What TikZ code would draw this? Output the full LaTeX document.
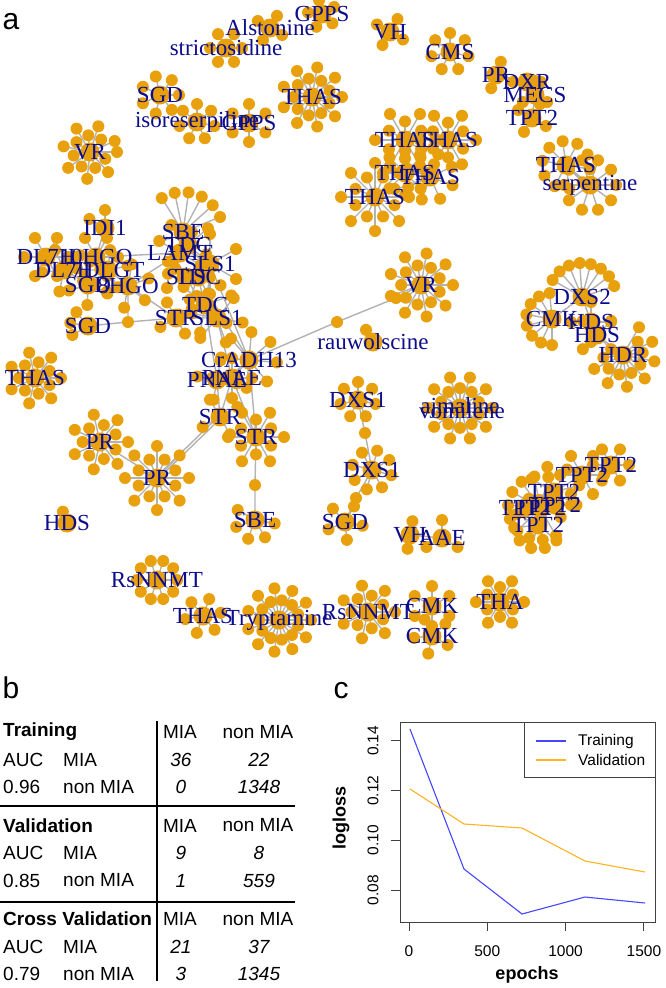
\documentclass[tikz,border=0pt]{standalone}
\usepackage{fontspec}
\setmainfont{Liberation Serif}
\setsansfont{Liberation Sans}
\definecolor{netOrange}{RGB}{232,160,12}
\definecolor{netBlue}{RGB}{12,12,140}
\definecolor{edgeGray}{RGB}{178,178,178}
\definecolor{lossBlue}{RGB}{70,70,255}
\definecolor{lossOrange}{RGB}{255,178,35}

% hub with its ring of leaves: name, position, label, leaves, radius, start angle, span
% drawn in three passes: 1 spokes, 2 leaves and hubs, 3 labels
\newcount\netpass
\newcommand{\cluster}[7]{%
  \ifcase\netpass\or
    \coordinate (#1) at (#2);
    \foreach \i in {1,...,#4}{%
      \pgfmathsetmacro\ang{#6+(\i-1)*#7/#4}%
      \pgfmathsetmacro\rr{(#4>11 && mod(\i,2)==0) ? 0.62*#5 : #5}%
      \coordinate (#1-c\i) at ([shift={(\ang:\rr)}]#1);
      \draw[spoke] (#1) -- (#1-c\i);
    }%
  \or
    \node[hub] (#1-h) at (#1) {};
    \foreach \i in {1,...,#4}{\node[dot] (#1-\i) at (#1-c\i) {};}%
  \or
    \node[lab] (#1-t) at (#1) {#3};
  \fi}

\newcommand{\netclusters}{%
  % top rim
  \cluster{gppsA}{322,14}{GPPS}{5}{14}{-30}{360}
  \cluster{alst}{270,28}{Alstonine}{4}{14}{-60}{360}
  \cluster{stri}{226,48}{strictosidine}{6}{16}{0}{360}
  \cluster{sgdA}{160,95}{SGD}{7}{19}{0}{360}
  \cluster{isor}{197,122}{isoreserpiline}{7}{18}{-90}{360}
  \cluster{gppsB}{249,123}{GPPS}{6}{19}{-90}{360}
  \cluster{vrA}{90,152}{VR}{15}{27}{0}{360}
  \cluster{thasA}{312,97}{THAS}{18}{30}{0}{360}
  \cluster{vhA}{390,32}{VH}{4}{15}{-60}{360}
  \cluster{cms}{450,52}{CMS}{7}{19}{-90}{360}
  \cluster{prA}{496,75}{PR}{2}{14}{-70}{360}
  \cluster{dxr}{527,82}{DXR}{2}{14}{0}{360}
  \cluster{mecs}{535,95}{MECS}{3}{14}{30}{360}
  \cluster{tptA}{532,118}{TPT2}{4}{16}{-60}{360}
  % THAS group
  \cluster{thasB}{405,140}{THAS}{12}{30}{0}{360}
  \cluster{thasC}{448,140}{THAS}{12}{28}{-60}{360}
  \cluster{thasD}{405,173}{THAS}{8}{22}{0}{360}
  \cluster{thasE}{430,177}{THAS}{8}{24}{20}{360}
  \cluster{thasF}{375,197}{THAS}{16}{34}{0}{360}
  \cluster{thasG}{566,165}{THAS}{10}{24}{-170}{360}
  \cluster{serp}{590,185}{serpentine}{10}{26}{0}{360}
  % middle left, dense part
  \cluster{idi}{105,228}{IDI1}{2}{18}{-150}{120}
  \cluster{sbeA}{183,232}{SBE}{6}{40}{-122}{120}
  \cluster{dl7a}{46,257}{DL7H}{6}{22}{120}{360}
  \cluster{hgo}{96,257}{10HGO}{6}{22}{-60}{360}
  \cluster{dl7b}{64,270}{DL7H}{5}{22}{30}{360}
  \cluster{dlgt}{108,270}{7DLGT}{5}{20}{60}{360}
  \cluster{sgdC}{88,285}{SGD}{5}{20}{20}{360}
  \cluster{hgo8}{128,286}{8HGO}{6}{22}{40}{360}
  \cluster{tdcA}{188,245}{TDC}{4}{26}{-40}{360}
  \cluster{lamt}{180,253}{LAMT}{4}{24}{-150}{360}
  \cluster{sls}{210,264}{SLS1}{6}{30}{-30}{360}
  \cluster{slsC}{186,277}{SLS}{4}{22}{60}{360}
  \cluster{tdcC}{198,277}{TDC}{4}{24}{20}{360}
  \cluster{tdcB}{205,305}{TDC}{6}{28}{-20}{360}
  \cluster{strA}{176,318}{STR}{4}{18}{60}{360}
  \cluster{slsB}{217,318}{SLS1}{6}{26}{10}{360}
  \cluster{cradh}{249,360}{CrADH13}{8}{28}{-40}{360}
  \cluster{pnaeA}{232,378}{PNAE}{4}{20}{0}{360}
  \cluster{pnaeB}{217,380}{PNAE}{4}{20}{100}{360}
  \cluster{sgdD}{88,326}{SGD}{3}{18}{150}{120}
  \cluster{thasL}{35,378}{THAS}{14}{26}{0}{360}
  \cluster{prL}{100,442}{PR}{14}{28}{0}{360}
  \cluster{prM}{157,478}{PR}{16}{32}{0}{360}
  \cluster{strB}{220,417}{STR}{4}{20}{60}{360}
  \cluster{strC}{256,437}{STR}{12}{28}{-60}{360}
  \cluster{sbeB}{255,520}{SBE}{5}{20}{10}{250}
  \cluster{hds}{67,523}{HDS}{1}{12}{-110}{360}
  % middle right
  \cluster{vrB}{421,285}{VR}{18}{32}{0}{360}
  \cluster{rauw}{373,342}{rauwolscine}{1}{14}{-120}{360}
  \cluster{dxs2}{582,297}{DXS2}{8}{34}{-150}{150}
  \cluster{cmk}{552,319}{CMK}{8}{26}{90}{200}
  \cluster{hdsA}{591,322}{HDS}{4}{20}{0}{360}
  \cluster{hdsB}{597,335}{HDS}{4}{20}{45}{360}
  \cluster{hdr}{623,355}{HDR}{14}{32}{-60}{250}
  \cluster{dxs1a}{358,400}{DXS1}{7}{18}{-90}{360}
  \cluster{dxs1b}{372,470}{DXS1}{8}{20}{-30}{360}
  \cluster{sgdB}{345,522}{SGD}{5}{18}{-60}{360}
  \cluster{ajm}{460,408}{ajmaline}{20}{32}{0}{360}
  \cluster{tptB}{611,465}{TPT2}{6}{18}{-60}{360}
  \cluster{tptC}{582,475}{TPT2}{6}{22}{-120}{360}
  \cluster{tptD}{554,492}{TPT2}{8}{26}{-150}{360}
  \cluster{tptE}{540,508}{TPT2}{10}{32}{60}{250}
  \cluster{tptG}{525,508}{TPT2}{2}{16}{150}{360}
  \cluster{tptH}{555,505}{TPT2}{2}{16}{0}{360}
  \cluster{tptF}{538,525}{TPT2}{6}{24}{40}{200}
  \cluster{vhB}{410,535}{VH}{2}{14}{100}{360}
  \cluster{aae}{442,538}{AAE}{3}{18}{-90}{360}
  % bottom rim
  \cluster{rsA}{157,580}{RsNNMT}{10}{20}{0}{360}
  \cluster{thasH}{203,616}{THAS}{6}{18}{-70}{360}
  \cluster{tryp}{279,620}{Tryptamine}{22}{32}{0}{360}
  \cluster{rsB}{368,612}{RsNNMT}{14}{27}{0}{360}
  \cluster{cmkA}{432,606}{CMK}{6}{20}{-90}{360}
  \cluster{cmkB}{432,636}{CMK}{5}{18}{30}{360}
  \cluster{tha}{500,602}{THA}{12}{24}{0}{360}
}

\begin{document}
\begin{tikzpicture}[x=1pt,y=-1pt]
  \tikzset{dot/.style={circle,fill=netOrange,inner sep=0pt,minimum size=12pt},
    hub/.style={circle,fill=netOrange,inner sep=0pt,minimum size=19pt},
    spoke/.style={edgeGray,line width=1.4pt},
    lab/.style={text=netBlue,inner sep=0pt,font=\fontsize{23}{23}\selectfont},
    cell/.style={inner sep=0pt,font=\sffamily\fontsize{19}{19}\selectfont},
    num/.style={cell,font=\sffamily\itshape\fontsize{19}{19}\selectfont},
    tick/.style={inner sep=0pt,font=\sffamily\fontsize{15.5}{15.5}\selectfont},
    panel/.style={inner sep=0pt,font=\sffamily\fontsize{30}{30}\selectfont}}
  \useasboundingbox (0,0) rectangle (666,988);

  \node[panel] (pa) at (11,22) {a};
  \node[panel] (pb) at (11,688) {b};
  \node[panel] (pc) at (341,691) {c};

  % a: network
  \netpass=1 \netclusters
  \coordinate (m1) at (128,322);
  \coordinate (m2) at (255,485);
  \coordinate (m3) at (337,322);
  \coordinate (m4) at (396,298);
  \coordinate (m5) at (365,433);
  \coordinate (m6) at (356,498);
  \draw[spoke] (prA) -- (dxr) -- (mecs) -- (tptA);
  \draw[spoke] (thasB) -- (thasC) (thasB) -- (thasD) -- (thasE) -- (thasF);
  \draw[spoke] (thasG) -- (serp);
  \draw[spoke] (idi) -- (hgo) -- (lamt) (dl7a) -- (hgo) (dl7b) -- (dlgt) -- (sgdC) -- (hgo8) -- (lamt);
  \draw[spoke] (lamt) -- (tdcA) -- (sls) -- (slsC) -- (tdcC) (sbeA) -- (tdcA);
  \draw[spoke] (hgo8) -- (m1) -- (sgdD) (m1) -- (strA) (hgo8) -- (strA) -- (slsB);
  \draw[spoke] (tdcC) -- (tdcB) -- (slsB) (sls) -- (cradh) (tdcC) -- (cradh) (slsB) -- (pnaeA) (tdcB) -- (pnaeB);
  \draw[spoke] (cradh) -- (pnaeA) -- (strB) (pnaeB) -- (strB) (cradh) -- (strC) (pnaeA) -- (strC);
  \draw[spoke,transform canvas={xshift=-2pt}] (strB) -- (prM);
  \draw[spoke,transform canvas={xshift=2pt}] (strB) -- (prM);
  \draw[spoke] (prM) -- (prL) (strC) -- (m2) -- (sbeB);
  \draw[spoke] (cradh) -- (m3) -- (m4) -- (vrB);
  \draw[spoke] (cmk) -- (dxs2) -- (hdsA) -- (hdsB) -- (hdr);
  \draw[spoke] (dxs1a) -- (m5) -- (dxs1b) -- (m6) -- (sgdB);
  \draw[spoke] (tptB) -- (tptC) -- (tptD) -- (tptE) -- (tptF) (tptG) -- (tptE) -- (tptH);
  \draw[spoke] (vhB) -- (aae) (cmkA) -- (cmkB);
  \netpass=2 \netclusters
  \foreach \m in {1,...,6}{\node[dot] (m\m-d) at (m\m) {};}
  \netpass=3 \netclusters
  \node[lab] (vomi) at (462,411) {vomilene};

  % b: confusion tables
  \draw[line width=1.2pt] (157,721) -- (157,981);
  \draw[line width=1.2pt] (0,806) -- (295,806) (0,902) -- (295,902);
  \foreach \ttl/\auc/\aa/\ab/\ba/\bb [count=\k] in
      {Training/0.96/36/22/0/1348,Validation/0.85/9/8/1/559,Cross Validation/0.79/21/37/3/1345}{
    \pgfmathsetmacro\yy{732+(\k-1)*93.5}
    \node[cell,anchor=west,font=\sffamily\bfseries\fontsize{19}{19}\selectfont] (ttl\k) at (3,\yy) {\ttl};
    \node[cell] (hm\k) at (180,\yy) {MIA};
    \node[cell] (hn\k) at (258,\yy) {non MIA};
    \node[cell,anchor=west] (auc\k) at (3,\yy+27.5) {AUC};
    \node[cell,anchor=west] (ra\k) at (63,\yy+27.5) {MIA};
    \node[cell,anchor=west] (val\k) at (3,\yy+55) {\auc};
    \node[cell,anchor=west] (rb\k) at (63,\yy+55) {non MIA};
    \node[num] (caa\k) at (181,\yy+27.5) {\aa};
    \node[num] (cab\k) at (259,\yy+27.5) {\ab};
    \node[num] (cba\k) at (181,\yy+55) {\ba};
    \node[num] (cbb\k) at (259,\yy+55) {\bb};
  }

  % c: loss curves
  \draw[line width=0.9pt,black!75] (400,722) rectangle (655,922);
  \foreach \e in {0,500,1000,1500}{
    \draw[line width=0.9pt,black!75] (409+\e*0.1566,922) -- (409+\e*0.1566,931);
    \node[tick] (ex\e) at (409+\e*0.1566,951) {\e};
  }
  \foreach \v/\w in {0.08/890,0.10/840.3,0.12/790.6,0.14/740.9}{
    \draw[line width=0.9pt,black!75] (400,\w) -- (391,\w);
    \node[tick,rotate=90] (ly\w) at (373,\w) {\v};
  }
  \node[inner sep=0pt,font=\sffamily\bfseries\fontsize{18}{18}\selectfont] (xlab) at (527,975) {epochs};
  \node[inner sep=0pt,rotate=90,font=\sffamily\bfseries\fontsize{18}{18}\selectfont] (ylab) at (341,818) {logloss};
  \draw[lossBlue,line width=1.1pt] (410,729) -- (464,869) -- (522,914) -- (585,897) -- (645,903);
  \draw[lossOrange,line width=1.1pt] (410,789) -- (464,824) -- (522,828) -- (585,861) -- (645,872);
  \draw[line width=0.9pt,black!75] (524,722) rectangle (655,777);
  \draw[lossBlue,line width=1.1pt] (536,741) -- (566,741);
  \draw[lossOrange,line width=1.1pt] (536,760) -- (566,760);
  \node[tick,anchor=west] (legT) at (578,741) {Training};
  \node[tick,anchor=west] (legV) at (578,760) {Validation};
\end{tikzpicture}
\end{document}
